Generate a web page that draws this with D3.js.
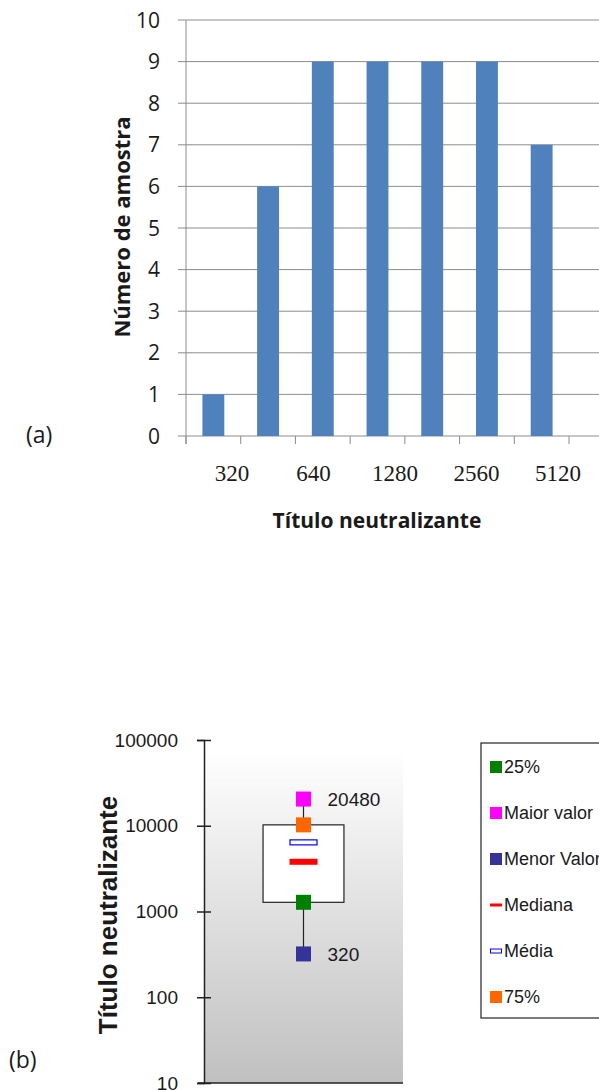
<!DOCTYPE html>
<head>
    <meta charset="utf-8">
    <script src="https://d3js.org/d3.v7.min.js"></script>
    <style>
      body { margin: 0; background: #fff; }
      text { fill: #1a1a1a; }
      .calib { font-family: "Open Sans", sans-serif; }
      .arial { font-family: "Liberation Sans", Arial, sans-serif; }
    </style>
<body>
    <script>
        // (a) histogram data
        var titres = ["320", "640", "1280", "2560", "5120", "10240", "20480"]
        var counts = [1, 6, 9, 9, 9, 9, 7]
        var xLabels = ["320", "640", "1280", "2560", "5120"]
        var yTicksA = [0, 1, 2, 3, 4, 5, 6, 7, 8, 9, 10]

        // (b) box plot data
        var statNames = ["25%", "Maior valor", "Menor Valor", "Mediana", "Média", "75%"]
        var statValues = [1280, 20480, 320, 3800, 6400, 10240]
        var statColors = ["#008000", "#ff00ff", "#333399", "#ff0000", "#0000ff", "#ff6600"]
        var yTicksB = [10, 100, 1000, 10000, 100000]

        var svg = d3.select("body").append("svg")
          .attr("width", 599)
          .attr("height", 1090)

        // ---------- (a) ----------
        var gA = svg.append("g")
        var x = d3.scaleBand().domain(titres).range([186, 569])
          .paddingInner(0.6).paddingOuter(0.3)
        var y = d3.scaleLinear().domain([0, 10]).range([436, 20])
        var xLab = d3.scalePoint().domain(xLabels).range([232, 558])

        // gridlines
        gA.selectAll(".grid").data(yTicksA).enter().append("line")
          .attr("x1", 178).attr("x2", 599)
          .attr("y1", function(d){return y(d)}).attr("y2", function(d){return y(d)})
          .attr("stroke", "#8c8c8c").attr("stroke-width", 1)
        // y axis line
        gA.append("line").attr("x1", 186).attr("x2", 186)
          .attr("y1", y(10)).attr("y2", y(0) + 8)
          .attr("stroke", "#8c8c8c")
        // category ticks
        var bounds = titres.map(function(d){return x(d) - x.step()*x.paddingInner()/2})
        bounds.push(569)
        gA.selectAll(".xt").data(bounds).enter().append("line")
          .attr("x1", function(d){return d}).attr("x2", function(d){return d})
          .attr("y1", y(0)).attr("y2", y(0) + 8)
          .attr("stroke", "#8c8c8c")

        gA.selectAll(".bar").data(counts).enter().append("rect")
          .attr("x", function(d, i){return x(titres[i])})
          .attr("y", function(d){return y(d)})
          .attr("width", x.bandwidth())
          .attr("height", function(d){return y(0) - y(d)})
          .attr("fill", "#4f81bd")

        gA.selectAll(".yl").data(yTicksA).enter().append("text")
          .classed("calib", true)
          .attr("x", 160).attr("y", function(d){return y(d)})
          .attr("dy", "0.36em").attr("text-anchor", "end")
          .attr("font-size", "21px")
          .text(function(d){return d})

        gA.selectAll(".xl").data(xLabels).enter().append("text")
          .attr("font-family", "Liberation Serif, serif")
          .attr("x", function(d){return xLab(d)}).attr("y", 481)
          .attr("text-anchor", "middle").attr("font-size", "23px")
          .attr("fill", "#222")
          .text(function(d){return d})

        gA.append("text").classed("calib", true)
          .attr("transform", "translate(130,227) rotate(-90)")
          .attr("text-anchor", "middle").attr("font-size", "22px").attr("font-weight", "bold")
          .attr("fill", "#000")
          .text("Número de amostra")
        gA.append("text").classed("calib", true)
          .attr("x", 377).attr("y", 528)
          .attr("text-anchor", "middle").attr("font-size", "21px").attr("font-weight", "bold")
          .attr("fill", "#000")
          .text("Título neutralizante")
        gA.append("text").classed("calib", true)
          .attr("x", 26).attr("y", 443).attr("font-size", "23px")
          .text("(a)")

        // ---------- (b) ----------
        var gB = svg.append("g")
        var yb = d3.scaleLog().domain([10, 100000]).range([1083, 740])
        var xb = d3.scaleBand().domain(["amostra"]).range([204, 403])
          .paddingInner(0).paddingOuter(0.73)
        var cx = xb("amostra") + xb.bandwidth()/2

        var grad = svg.append("defs").append("linearGradient")
          .attr("id", "bg").attr("x1", 0).attr("x2", 0).attr("y1", 0).attr("y2", 1)
        grad.append("stop").attr("offset", "0%").attr("stop-color", "#ffffff")
        grad.append("stop").attr("offset", "100%").attr("stop-color", "#c0c0c0")

        gB.append("rect").attr("x", 204).attr("y", 750)
          .attr("width", 199).attr("height", yb(10) - 750)
          .attr("fill", "url(#bg)")

        var axisB = gB.append("g").attr("transform", "translate(204,0)")
          .call(d3.axisLeft(yb).tickValues(yTicksB).tickFormat(d3.format("d")).tickSize(7).tickPadding(20))
        axisB.select(".domain").attr("stroke", "#222").attr("stroke-width", 1.5)
        axisB.selectAll(".tick line").attr("stroke", "#222").attr("stroke-width", 1.5).attr("x2", 7).attr("x1", -7)
        axisB.selectAll(".tick text").attr("font-family", "Liberation Sans, Arial, sans-serif")
          .attr("font-size", "19px").attr("fill", "#333").attr("x", -26)
        gB.append("line").attr("x1", 198).attr("x2", 403)
          .attr("y1", yb(10)).attr("y2", yb(10))
          .attr("stroke", "#222").attr("stroke-width", 1.5)

        var sv = {}
        statNames.forEach(function(n, i){ sv[n] = statValues[i] })

        // whiskers
        gB.append("line").attr("x1", cx).attr("x2", cx)
          .attr("y1", yb(sv["Maior valor"])).attr("y2", yb(sv["Menor Valor"]))
          .attr("stroke", "#222").attr("stroke-width", 1.2)
        // box
        gB.append("rect").attr("x", xb("amostra")).attr("y", yb(sv["75%"]))
          .attr("width", xb.bandwidth()).attr("height", yb(sv["25%"]) - yb(sv["75%"]))
          .attr("fill", "#fff").attr("stroke", "#222").attr("stroke-width", 1.2)

        // markers
        var squares = ["25%", "Maior valor", "Menor Valor", "75%"]
        squares.forEach(function(n){
          var i = statNames.indexOf(n)
          gB.append("rect").attr("x", cx - 7.5).attr("y", yb(statValues[i]) - 7.5)
            .attr("width", 15).attr("height", 15).attr("fill", statColors[i])
        })
        gB.append("rect").attr("x", cx - 14).attr("y", yb(sv["Mediana"]) - 3)
          .attr("width", 28).attr("height", 6).attr("fill", statColors[3])
        gB.append("rect").attr("x", cx - 13.5).attr("y", yb(sv["Média"]) - 2.5)
          .attr("width", 27).attr("height", 5).attr("fill", "#fff")
          .attr("stroke", statColors[4]).attr("stroke-width", 1.2)

        gB.selectAll(".vl").data(["Maior valor", "Menor Valor"]).enter().append("text")
          .classed("arial", true)
          .attr("x", cx + 24).attr("y", function(d){return yb(sv[d])})
          .attr("dy", "0.36em").attr("font-size", "19px").attr("fill", "#333")
          .text(function(d){return sv[d]})

        gB.append("text").classed("arial", true)
          .attr("transform", "translate(117,915) rotate(-90)")
          .attr("text-anchor", "middle").attr("font-size", "26px").attr("font-weight", "bold")
          .attr("fill", "#000")
          .text("Título neutralizante")
        gB.append("text").classed("calib", true)
          .attr("x", 9).attr("y", 1068).attr("font-size", "23px")
          .text("(b)")

        // legend
        var lg = gB.append("g")
        lg.append("rect").attr("x", 481).attr("y", 743).attr("width", 140).attr("height", 275)
          .attr("fill", "#fff").attr("stroke", "#222").attr("stroke-width", 1.2)
        var ly = d3.scalePoint().domain(statNames).range([767, 997])
        statNames.forEach(function(n, i){
          var yy = ly(n)
          if (n == "Mediana") {
            lg.append("rect").attr("x", 490).attr("y", yy - 1.5).attr("width", 12).attr("height", 3)
              .attr("fill", statColors[i])
          } else if (n == "Média") {
            lg.append("rect").attr("x", 490.5).attr("y", yy - 2).attr("width", 11).attr("height", 4)
              .attr("fill", "#fff").attr("stroke", statColors[i]).attr("stroke-width", 1)
          } else {
            lg.append("rect").attr("x", 490).attr("y", yy - 6).attr("width", 12).attr("height", 12)
              .attr("fill", statColors[i])
          }
          lg.append("text").classed("arial", true)
            .attr("x", 504).attr("y", yy).attr("dy", "0.36em")
            .attr("font-size", "18px").attr("fill", "#222")
            .text(n)
        })
    </script>
</body>
